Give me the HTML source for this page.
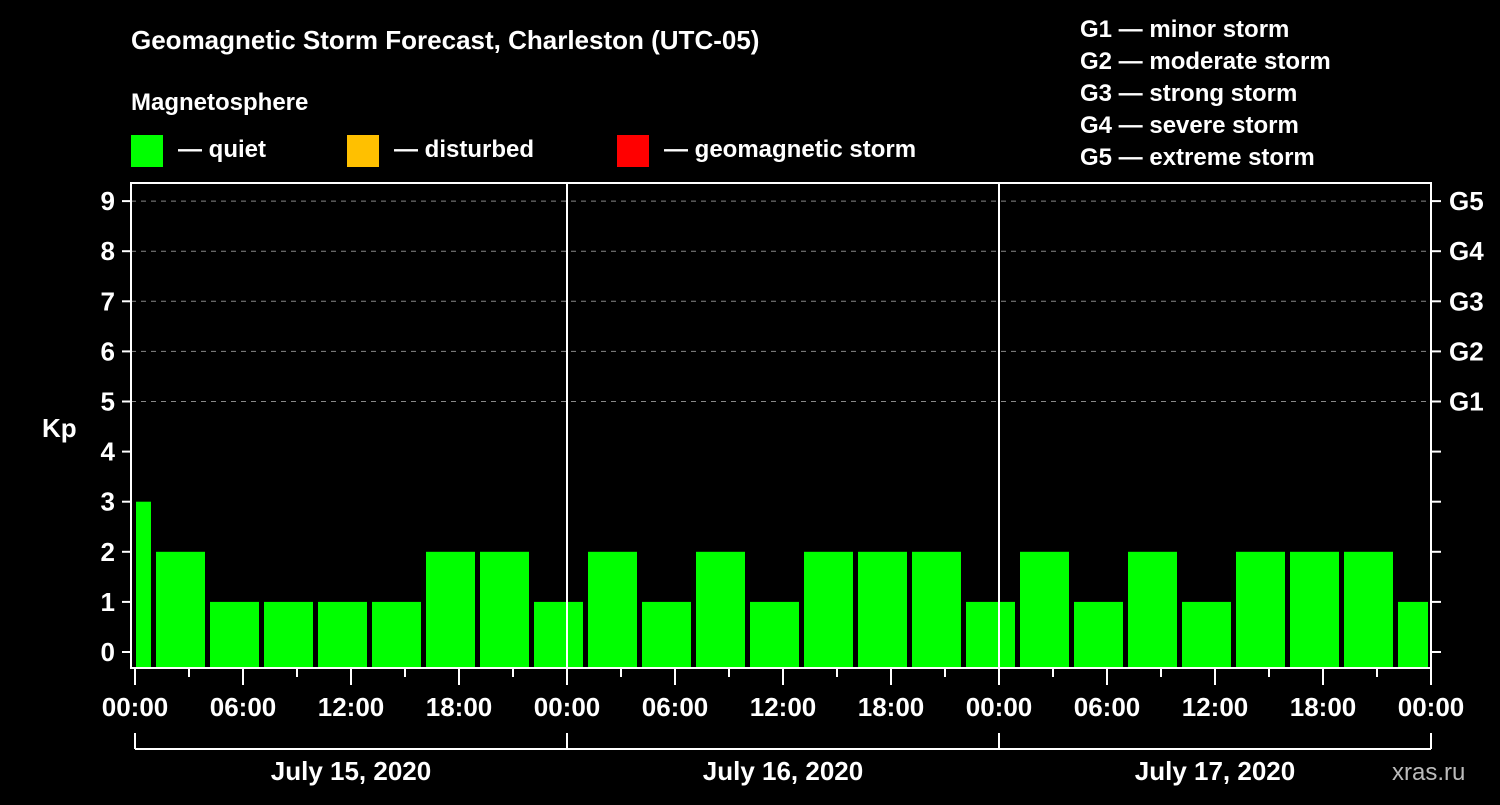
<!DOCTYPE html>
<html><head><meta charset="utf-8"><style>
body{margin:0;background:#000;}
svg text{font-family:"Liberation Sans",sans-serif;font-weight:bold;fill:#fff;}
</style></head><body>
<svg id="c" width="1500" height="800" viewBox="0 0 1500 800">
<rect width="1500" height="800" fill="#000"/>
<text x="131" y="49" font-size="26">Geomagnetic Storm Forecast, Charleston (UTC-05)</text>
<text x="131" y="110" font-size="24">Magnetosphere</text>
<g><rect x="131" y="135" width="32" height="32" fill="#00ff00"/><text x="178" y="157" font-size="24">— quiet</text></g>
<g><rect x="347" y="135" width="32" height="32" fill="#ffc000"/><text x="394" y="157" font-size="24">— disturbed</text></g>
<g><rect x="617" y="135" width="32" height="32" fill="#ff0000"/><text x="664" y="157" font-size="24">— geomagnetic storm</text></g>
<g font-size="24">
<text x="1080" y="37">G1 — minor storm</text>
<text x="1080" y="69">G2 — moderate storm</text>
<text x="1080" y="101">G3 — strong storm</text>
<text x="1080" y="133">G4 — severe storm</text>
<text x="1080" y="165">G5 — extreme storm</text>
</g>
<text x="42" y="437" font-size="26">Kp</text>
<text x="1392" y="780" font-size="24" fill="#ccc" style="fill:#bbb;font-weight:normal">xras.ru</text>
<g id="plot"></g>
</svg>
<script>
const kpValues=[3,2,1,1,1,1,2,2,1,2,1,2,1,2,2,2,1,2,1,2,1,2,2,2,1];
const slotStartHours=[-2,1,4,7,10,13,16,19,22,25,28,31,34,37,40,43,46,49,52,55,58,61,64,67,70];
const xTickLabels=["00:00","06:00","12:00","18:00","00:00","06:00","12:00","18:00","00:00","06:00","12:00","18:00","00:00"];
const dayLabels=["July 15, 2020","July 16, 2020","July 17, 2020"];
const gLabels=["G1","G2","G3","G4","G5"];
const NS="http://www.w3.org/2000/svg";
const X0=135,PX=18,Y0=652,PY=50.1,TOP=183,BOT=668,RIGHT=1431;
const x=h=>X0+h*PX, y=k=>Y0-k*PY;
const g=document.getElementById('plot');
function el(t,a,p){const e=document.createElementNS(NS,t);for(const k in a)e.setAttribute(k,a[k]);(p||g).appendChild(e);return e;}
// grid
for(let k=5;k<=9;k++){const l=el('line',{x1:X0-4,x2:RIGHT,y1:y(k),y2:y(k),stroke:'#888','stroke-dasharray':'5,5','stroke-width':1});

}
// bars
kpValues.forEach((v,i)=>{const s=slotStartHours[i];let a=x(s)+3,b=x(s+3)-2;a=Math.max(a,X0+1);b=Math.min(b,RIGHT-3);
const r=el('rect',{x:a,y:y(v),width:b-a,height:BOT-y(v),fill:'#00ff00'});

});
// frame
const f=el('rect',{x:X0-4,y:TOP,width:RIGHT-X0+4,height:BOT-TOP,fill:'none',stroke:'#fff','stroke-width':2});


[1,2].forEach(d=>{const l=el('line',{x1:x(d*24),x2:x(d*24),y1:TOP,y2:BOT,stroke:'#fff','stroke-width':2});

});
// y ticks
for(let k=0;k<=9;k++){el('line',{x1:X0-13,x2:X0-4,y1:y(k),y2:y(k),stroke:'#fff','stroke-width':2});
el('line',{x1:RIGHT,x2:RIGHT+10,y1:y(k),y2:y(k),stroke:'#fff','stroke-width':2});
const t=el('text',{x:X0-20,y:y(k)+9,'font-size':26,'text-anchor':'end'});t.textContent=k;

}
gLabels.forEach((s,i)=>{const t=el('text',{x:1449,y:y(5+i)+9,'font-size':26});t.textContent=s;

});
// x ticks
for(let h=0;h<=72;h+=3){const maj=h%6===0;el('line',{x1:x(h),x2:x(h),y1:BOT,y2:BOT+(maj?17:9),stroke:'#fff','stroke-width':2});}
xTickLabels.forEach((s,i)=>{const t=el('text',{x:x(i*6),y:716,'font-size':26,'text-anchor':'middle'});t.textContent=s;

});
// day bracket
el('line',{x1:X0,x2:RIGHT,y1:749,y2:749,stroke:'#fff','stroke-width':2});
for(let d=0;d<=3;d++)el('line',{x1:x(d*24),x2:x(d*24),y1:733,y2:749,stroke:'#fff','stroke-width':2});
dayLabels.forEach((s,i)=>{const t=el('text',{x:x(i*24+12),y:780,'font-size':26,'text-anchor':'middle'});t.textContent=s;

});
</script>
</body></html>
